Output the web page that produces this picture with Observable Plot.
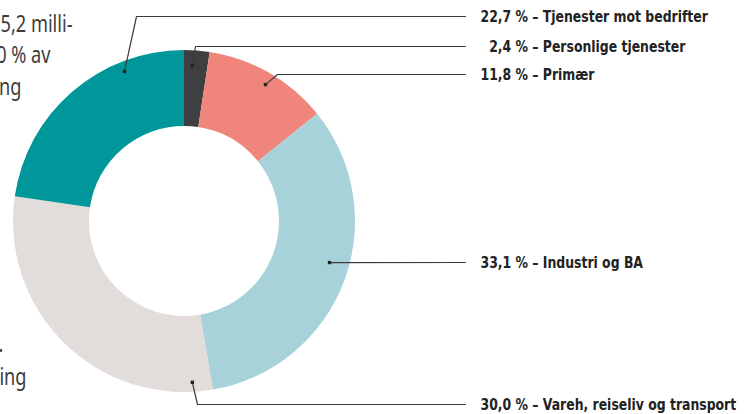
<!DOCTYPE html>
<html><head><meta charset="utf-8">
<script src="https://cdn.jsdelivr.net/npm/d3@7"></script>
<script src="https://cdn.jsdelivr.net/npm/@observablehq/plot@0.6"></script>
<style>
html,body{margin:0;padding:0;background:#fff;overflow:hidden}
#chart svg{display:block}
</style></head><body><div id="chart"></div>
<script>
// ---- data ----
const categories = ["Personlige tjenester", "Primær", "Industri og BA", "Vareh, reiseliv og transport", "Tjenester mot bedrifter"];
const shares = [2.4, 11.8, 33.1, 30.0, 22.7];
const sliceColors = ["#3f3f41", "#f0857c", "#a8d2d9", "#e2dddb", "#00979a"];
const sideFragments = ["5,2 milli-", "0 % av", "ng", ".", "ing"];

// ---- layout (pixel-like data units) ----
const W = 755, H = 414;
const center = [184, 221];
const outerR = 171, innerR = 95;
// leader anchors per category (same order as categories): angle (deg, clockwise from top), radius, elbow x, label y
const anchorAngle = [2.9, 30.6, 105.8, 177.2, 338.2];
const anchorRadius = [156, 159, 150.7, 161, 161.6];
const elbowX = [195, 277, null, 197, 136];
const labelY = [46, 74, 262, 404, 16];
const lineEndX = 465, labelX = 480;
const sideX = [72, 50, 21, 3, 26];
const sideBaseline = [32, 63, 95, 352, 385];
const labelSqueeze = 0.865, sideSqueeze = 0.79;

const colorScale = Plot.scale({color: {type: "ordinal", domain: categories, range: sliceColors}});
const fmt = v => {
  const s = v.toFixed(1).replace(".", ",");
  return (v < 10 ? "\u2007" : "") + s;
};

const anchors = categories.map((c, i) => {
  const a = anchorAngle[i] * Math.PI / 180;
  return {cat: c, x: center[0] + anchorRadius[i] * Math.sin(a), y: center[1] - anchorRadius[i] * Math.cos(a)};
});
const leaderPts = [];
anchors.forEach((p, i) => {
  leaderPts.push({cat: p.cat, x: p.x, y: p.y});
  if (elbowX[i] != null) leaderPts.push({cat: p.cat, x: elbowX[i], y: labelY[i]});
  leaderPts.push({cat: p.cat, x: lineEndX, y: labelY[i]});
});
const labels = categories.map((c, i) => ({cat: c, x: labelX, y: labelY[i], text: `${fmt(shares[i])} % – ${c}`}));
const side = sideFragments.map((t, i) => ({t, x: sideX[i], y: sideBaseline[i] - 7.4}));

function donut(index, scales, values, dimensions) {
  const X = scales.x, Y = scales.y;
  const px = X(center[0]), py = Y(center[1]);
  const pR = Math.abs(X(center[0] + outerR) - px), pr = Math.abs(X(center[0] + innerR) - px);
  const arcs = d3.pie().sort(null).value(i => shares[i])(d3.range(shares.length));
  const arc = d3.arc().innerRadius(pr).outerRadius(pR);
  const g = d3.create("svg:g").attr("transform", `translate(${px},${py})`);
  g.selectAll("path").data(arcs).join("path")
    .attr("d", arc)
    .attr("fill", d => colorScale.apply(categories[d.data]));
  return g.node();
}

const chart = Plot.plot({
  width: W, height: H,
  margin: 0,
  x: {domain: [0, W], range: [0, W], axis: null},
  y: {domain: [0, H], range: [0, H], axis: null},
  style: {background: "#fff"},
  marks: [
    donut,
    Plot.line(leaderPts, {x: "x", y: "y", z: "cat", stroke: "#3a3a3a", strokeWidth: 1.2, curve: "linear"}),
    Plot.dot(anchors, {x: "x", y: "y", symbol: "square", r: 1.9, fill: "#222", stroke: null}),
    Plot.text(labels, {x: "x", y: "y", text: "text", textAnchor: "start", fontSize: 16, fontWeight: "bold",
      fontFamily: "'DejaVu Sans Condensed', 'DejaVu Sans', sans-serif", fill: "#222"}),
    Plot.text(side, {x: "x", y: "y", text: "t", textAnchor: "end", fontSize: 23,
      fontFamily: "'Noto Sans', sans-serif", fill: "#3c3c3c"})
  ]
});
// horizontally condense the text glyphs around their anchor points
const textGroups = chart.querySelectorAll('g[aria-label="text"]');
[[textGroups[0], labelSqueeze], [textGroups[1], sideSqueeze]].forEach(([g, s]) => {
  if (!g) return;
  g.querySelectorAll("text").forEach(t => {
    const tr = t.getAttribute("transform") || "";
    t.setAttribute("transform", `${tr} scale(${s},1)`);
  });
});
document.getElementById("chart").appendChild(chart);
</script>
</body></html>
